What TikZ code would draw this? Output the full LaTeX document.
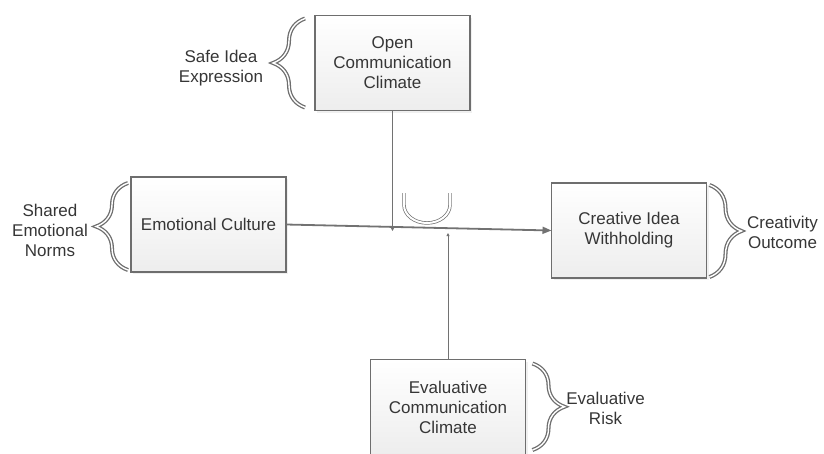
\documentclass[tikz,border=0pt]{standalone}
\usepackage{fontspec}
\setmainfont{Liberation Sans}
\usetikzlibrary{decorations.pathreplacing,arrows.meta,shadows}
\definecolor{boxline}{HTML}{6E6E6E}
\definecolor{wire}{HTML}{727272}
\definecolor{ink}{HTML}{363636}
\begin{document}
\begin{tikzpicture}[x=1pt,y=-1pt,
	factor/.style={draw=boxline,line width=1.6pt,top color=white,bottom color=gray!14,minimum width=155pt,minimum height=95pt,align=center,text=ink,inner sep=2pt,outer sep=0pt,drop shadow={opacity=.12,shadow xshift=2pt,shadow yshift=-2pt}},
	curly/.style={decorate,decoration={brace,amplitude=32pt},draw=boxline,line width=1.3pt,double=white,double distance=1.4pt},
	note/.style={align=center,text=ink},
	link/.style={draw=wire,line width=.8pt,-{Triangle[length=3pt,width=3pt]}}]
	\fontsize{17}{20}\selectfont
	\useasboundingbox (0,0) rectangle (824,453);
	\node[factor] (open) at (392.5,63) {Open\\Communication\\Climate};
	\node[factor] (emo) at (208.5,224.5) {Emotional Culture};
	\node[factor] (cre) at (629,230.5) {Creative Idea\\Withholding};
	\node[factor] (eva) at (448,407) {Evaluative\\Communication\\Climate};
	\node[note] at ([xshift=-94pt,yshift=-5pt]open.west) (safe) {Safe Idea\\Expression};
	\node[note] at ([xshift=-81pt,yshift=-5.5pt]emo.west) (shared) {Shared\\Emotional\\Norms};
	\node[note] at ([xshift=76pt,yshift=-1.5pt]cre.east) (outcome) {Creativity\\Outcome};
	\node[note] at ([xshift=80pt,yshift=-1pt]eva.east) (risk) {Evaluative\\Risk};
	\draw[curly] ([xshift=-10pt,yshift=3pt]open.south west) -- ([xshift=-10pt,yshift=-3pt]open.north west);
	\draw[curly] ([xshift=-3pt,yshift=2pt]emo.south west) -- ([xshift=-3pt,yshift=-6pt]emo.north west);
	\draw[curly] ([xshift=3pt,yshift=-2pt]cre.north east) -- ([xshift=3pt,yshift=1pt]cre.south east);
	\draw[curly] ([xshift=7pt,yshift=-4pt]eva.north east) -- ([xshift=7pt]eva.north east |- 0,450);
	\draw[draw=wire,line width=1.8pt,-{Triangle[length=9pt,width=7pt]}] (emo.east) -- (cre.west);
	\coordinate (openend) at (open.south |- 0,231);
	\coordinate (evaend) at (eva.north |- 0,233);
	\draw[link] (open.south) -- (openend);
	\draw[link] (eva.north) -- (evaend);
	\draw[draw=boxline,line width=.7pt,double=white,double distance=2pt] (404,193) -- (404,205)
		arc[start angle=180,end angle=360,x radius=23pt,y radius=18pt] -- (450,193);
\end{tikzpicture}
\end{document}
